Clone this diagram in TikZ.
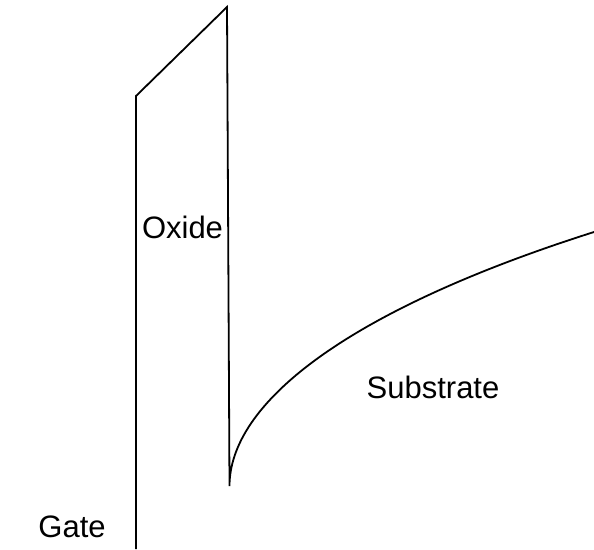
\documentclass[tikz,border=0pt]{standalone}
\usepackage{fontspec}
\setmainfont{Liberation Sans}
\begin{document}
\begin{tikzpicture}[x=1pt,y=-1pt,
  band/.style={line width=1.8pt, line join=miter},
  lbl/.style={anchor=base, inner sep=0pt, font=\fontsize{31}{37}\selectfont}]
\useasboundingbox (0,0) rectangle (594,549);
\coordinate (gbot) at (136,549);
\coordinate (gtop) at (136,96);
\coordinate (otop) at (227,7);
\coordinate (obot) at (229.5,486);
\coordinate (send) at (594,232);
\draw[band] (gbot) -- (gtop) -- (otop) -- (obot) .. controls (229.5,405) and (342,312) .. (send);
\node[lbl] (oxide) at (182.5,238) {Oxide};
\node[lbl] (substrate) at (433,398) {Substrate};
\node[lbl] (gate) at (72,537) {Gate};
\end{tikzpicture}
\end{document}
